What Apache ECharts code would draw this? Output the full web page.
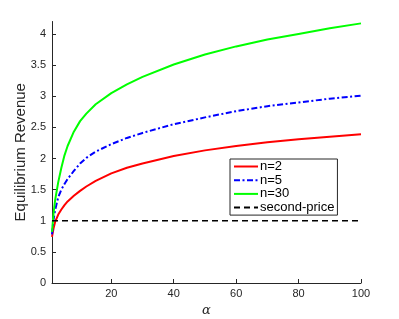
<!DOCTYPE html>
<html>
<head>
<meta charset="utf-8">
<script src="https://cdn.jsdelivr.net/npm/echarts@6/dist/echarts.min.js"></script>
<style>
html,body{margin:0;padding:0;background:#fff;}
#chart{width:399px;height:319px;}
</style>
</head>
<body>
<div id="chart"></div>
<script>
var alpha = [1, 1.5, 2, 3, 4, 5, 6, 8, 10, 12, 15, 20, 25, 30, 40, 50, 60, 70, 80, 90, 100];
var revN2 = [0.74, 0.88, 0.98, 1.10, 1.18, 1.25, 1.31, 1.40, 1.48, 1.55, 1.64, 1.76, 1.85, 1.92, 2.04, 2.13, 2.20, 2.26, 2.31, 2.35, 2.39];
var revN5 = [0.78, 1.02, 1.17, 1.38, 1.50, 1.59, 1.67, 1.80, 1.92, 2.01, 2.11, 2.23, 2.33, 2.41, 2.55, 2.66, 2.76, 2.84, 2.90, 2.96, 3.01];
var revN30 = [0.82, 1.12, 1.33, 1.62, 1.85, 2.05, 2.20, 2.43, 2.60, 2.72, 2.87, 3.05, 3.19, 3.31, 3.51, 3.67, 3.80, 3.91, 4.00, 4.09, 4.17];
var secondPriceX = [1, 100];
var secondPriceY = [1, 1];
var xTicks = [20, 40, 60, 80, 100];
var yTicks = [0, 0.5, 1, 1.5, 2, 2.5, 3, 3.5, 4];
var seriesNames = ['n=2', 'n=5', 'n=30', 'second-price'];

function pairs(xs, ys) { return xs.map(function (x, i) { return [x, ys[i]]; }); }

var axisColor = '#262626';
var font = 'Liberation Sans, Arial, Helvetica, sans-serif';

var chart = echarts.init(document.getElementById('chart'), null, {renderer: 'canvas'});
chart.setOption({
  animation: false,
  backgroundColor: '#fff',
  grid: {left: 52, right: 38, top: 21.5, bottom: 36, containLabel: false, outerBoundsMode: 'none'},
  xAxis: {
    type: 'value', min: 1, max: 100,
    name: 'α', nameLocation: 'middle', nameGap: 21, nameMoveOverlap: false,
    nameTextStyle: {fontFamily: 'DejaVu Serif, serif', fontStyle: 'italic', fontSize: 13, color: axisColor},
    axisLine: {show: true, lineStyle: {color: axisColor, width: 1}},
    axisTick: {show: true, inside: true, length: 4, lineStyle: {color: axisColor}, customValues: xTicks},
    axisLabel: {customValues: xTicks, color: axisColor, fontSize: 11, fontFamily: font, margin: 5},
    splitLine: {show: false}
  },
  yAxis: {
    type: 'value', min: 0, max: 4.2,
    name: 'Equilibrium Revenue', nameLocation: 'middle', nameGap: 24, nameMoveOverlap: false,
    nameTextStyle: {fontFamily: font, fontSize: 15, color: axisColor},
    axisLine: {show: true, lineStyle: {color: axisColor, width: 1}},
    axisTick: {show: true, inside: true, length: 4, lineStyle: {color: axisColor}, customValues: yTicks},
    axisLabel: {customValues: yTicks, color: axisColor, fontSize: 11, fontFamily: font, margin: 6},
    splitLine: {show: false}
  },
  legend: {
    orient: 'vertical', left: 230, top: 159,
    data: seriesNames,
    backgroundColor: '#fff', borderColor: axisColor, borderWidth: 1,
    padding: [1, 3, 1, 3], itemGap: 0.7, itemWidth: 24, itemHeight: 12,
    itemStyle: {opacity: 0},
    textStyle: {fontSize: 13, fontFamily: font, color: '#000', padding: [0, 0, 0, -3]}
  },
  series: [
    {name: seriesNames[0], type: 'line', data: pairs(alpha, revN2), symbol: 'none',
     lineStyle: {color: '#ff0000', width: 2}, itemStyle: {color: '#ff0000'}},
    {name: seriesNames[1], type: 'line', data: pairs(alpha, revN5), symbol: 'none',
     lineStyle: {color: '#0000ff', width: 2, type: [6, 2.5, 2, 2.5]}, itemStyle: {color: '#0000ff'}},
    {name: seriesNames[2], type: 'line', data: pairs(alpha, revN30), symbol: 'none',
     lineStyle: {color: '#00ff00', width: 2}, itemStyle: {color: '#00ff00'}},
    {name: seriesNames[3], type: 'line', data: pairs(secondPriceX, secondPriceY), symbol: 'none',
     lineStyle: {color: '#000', width: 1.5, type: [6, 4]}, itemStyle: {color: '#000'}}
  ]
});
</script>
</body>
</html>
